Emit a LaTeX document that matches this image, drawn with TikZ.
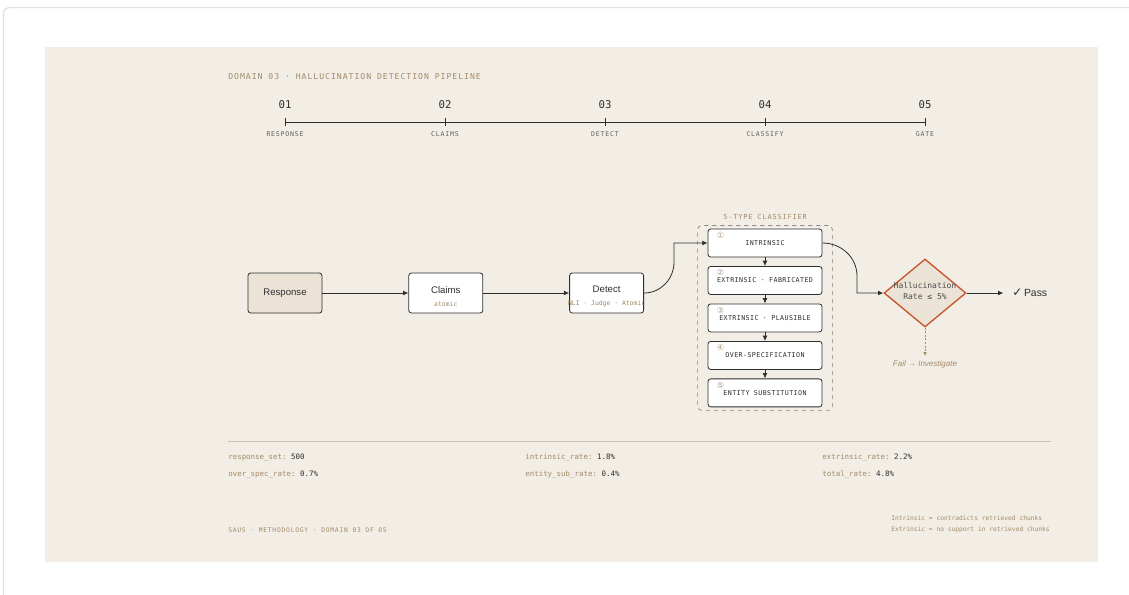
\documentclass[tikz,border=0pt]{standalone}
\usepackage{fontspec}
\setmainfont{Liberation Sans}
\setmonofont{DejaVu Sans Mono}
\newfontfamily\spaced[LetterSpace=12]{DejaVu Sans Mono}
\newfontfamily\boxmono[LetterSpace=6]{DejaVu Sans Mono}
\newfontfamily\symf{DejaVu Sans}
\usepackage{tikz}
\usetikzlibrary{arrows.meta, positioning, shapes.geometric, fit, calc}
\definecolor{panel}{HTML}{F2EEE6}
\definecolor{ink}{HTML}{2E2E2E}
\definecolor{tan}{HTML}{A38A68}
\definecolor{sand}{HTML}{EAE3D6}
\definecolor{rust}{HTML}{C9552B}
\definecolor{rulec}{HTML}{C8C1B6}
\definecolor{framec}{HTML}{E2E2E2}
\newcommand{\subtx}[1]{{\ttfamily\fontsize{4.8}{6}\selectfont\color{tan}#1}}
\tikzset{
  blk/.style ={rectangle, rounded corners=2pt, draw=ink, fill=white, line width=0.6pt, minimum width=55.5pt, minimum height=30pt, align=center, inner sep=2pt, font=\fontsize{7.2}{9}\selectfont, text=ink},
  cls/.style ={rectangle, rounded corners=2pt, draw=ink, fill=white, line width=0.6pt, minimum width=85.5pt, minimum height=21pt, inner sep=1pt, font=\boxmono\fontsize{5}{6}\selectfont, text=ink},
  num/.style ={anchor=north west, inner sep=0pt, xshift=6.5pt, yshift=-2.5pt, font=\symf\fontsize{6.3}{7}\selectfont, text=tan!80},
  grp/.style ={rectangle, rounded corners=3pt, draw=ink!60, dashed, line width=0.5pt, inner xsep=7.5pt, inner ysep=2.3pt},
  grplbl/.style ={font=\spaced\fontsize{5.2}{6}\selectfont, text=tan, inner sep=1pt, label distance=3pt},
  gate/.style={diamond, draw=rust, fill=sand, line width=1pt, minimum width=61.5pt, minimum height=51pt, inner sep=0pt},
  gtxt/.style={align=center, inner sep=0pt, font=\ttfamily\fontsize{6}{8.25}\selectfont, text=ink!85},
  passn/.style={inner sep=0pt, font=\fontsize{7.8}{9}\selectfont, text=ink},
  failtx/.style={inner sep=3pt, font=\itshape\fontsize{6}{7}\selectfont, text=tan},
  ttl/.style ={inner sep=0pt, font=\spaced\fontsize{6.1}{7}\selectfont, text=tan},
  stepno/.style={inner sep=0pt, font=\ttfamily\fontsize{8}{9}\selectfont, text=ink},
  steplbl/.style={inner sep=0pt, font=\spaced\fontsize{4.9}{6}\selectfont, text=ink!75},
  stat/.style={anchor=west, inner sep=0pt, font=\ttfamily\fontsize{5.6}{7}\selectfont, text=ink},
  note/.style={anchor=west, align=left, inner sep=0pt, font=\ttfamily\fontsize{4.7}{8.25}\selectfont, text=tan},
  tl/.style  ={draw=ink, line width=0.7pt},
  fl/.style  ={draw=ink, line width=0.6pt, -{Latex[length=4pt, width=3.6pt]}},
  flt/.style ={draw=tan, line width=0.6pt, dash pattern=on 1.5pt off 1.2pt, -{Latex[length=3pt, width=2.8pt]}},
}
\begin{document}
\begin{tikzpicture}[x=0.75pt, y=-0.75pt, node distance=6.5pt, >=Latex]
  \useasboundingbox (0,0) rectangle (1129,594);
  \fill[white] (0,0) rectangle (1129,594);
  \draw[framec, line width=1pt, rounded corners=4pt] (3.5,7.5) rectangle (1140,610);
  \fill[panel] (45,47) rectangle (1098,562);

  \node[ttl, anchor=west] (title) at (228,77) {DOMAIN 03 · HALLUCINATION DETECTION PIPELINE};
  \foreach \stepno/\steptxt [count=\i] in {01/RESPONSE, 02/CLAIMS, 03/DETECT, 04/CLASSIFY, 05/GATE}{
    \coordinate (t\i) at ({125+160*\i},122);
    \node[stepno] (n\i) at ({125+160*\i},105) {\stepno};
    \node[steplbl] (l\i) at ({125+160*\i},134) {\steptxt};
    \draw[tl] ([yshift=3pt]t\i) -- ([yshift=-3pt]t\i);
  }
  \draw[tl] (t1) -- (t5);

  \node[blk, fill=sand] (resp) at (285,293) {Response};
  \node[blk, right=64.5pt of resp] (clm) {\rule{0pt}{10.5pt}Claims\\[0.5pt]\subtx{atomic}};
  \node[blk, right=64.5pt of clm] (det) {\rule{0pt}{10.5pt}Detect\\[0.5pt]\subtx{\makebox[0pt]{NLI · Judge · Atomic}}};

  \node[cls, label={[num]north west:①}] (c1) at (765,243) {INTRINSIC};
  \foreach \k/\cn/\txt in {2/②/EXTRINSIC · FABRICATED, 3/③/EXTRINSIC · PLAUSIBLE, 4/④/OVER-SPECIFICATION, 5/⑤/ENTITY SUBSTITUTION}{
    \pgfmathtruncatemacro\prev{\k-1}
    \node[cls, below=of c\prev, label={[num]north west:\cn}] (c\k) {\txt};
    \draw[fl] (c\prev) -- (c\k);
  }
  \node[grp, fit=(c1)(c5), label={[grplbl]above:5-TYPE CLASSIFIER}] (clsf) {};

  \node[gate] (gate) at (925,293) {};
  \node[gtxt] (gtx) at ([yshift=1.5pt]gate.center) {Hallucination\\Rate ≤ 5\%};
  \node[passn, right=34pt of gate] (pass) {{\symf\fontsize{9}{9}\selectfont ✓}\,Pass};
  \node[failtx] (fail) at (925,364) {Fail → Investigate};

  \coordinate (bend1) at (674,262);
  \coordinate (bend2) at (857,276);
  \draw[fl] (resp) -- (clm);
  \draw[fl] (clm) -- (det);
  \draw[fl] (det.east) to[out=0, in=-90] (bend1) |- (c1.west);
  \draw[fl] (c1.east) to[out=0, in=90] (bend2) |- (gate.west);
  \draw[fl] (gate.east) -- ([xshift=-6.5pt]pass.west);
  \draw[flt] (gate.south) -- (fail.north);

  \draw[rulec, line width=0.7pt] (228,441) -- (1051,441);
  \foreach \x/\y/\key/\val in {228/458/response\_set/500, 525/458/intrinsic\_rate/1.8\%, 822/458/extrinsic\_rate/2.2\%,
                               228/475/over\_spec\_rate/0.7\%, 525/475/entity\_sub\_rate/0.4\%, 822/475/total\_rate/4.8\%}{
    \node[stat] at (\x,\y) {{\color{tan}\key:} \val};
  }
  \node[ttl, anchor=west, font=\spaced\fontsize{4.75}{6}\selectfont] (foot) at (228,530) {SAUS · METHODOLOGY · DOMAIN 03 OF 05};
  \node[note] (notes) at (891,524.5) {Intrinsic = contradicts retrieved chunks\\Extrinsic = no support in retrieved chunks};
\end{tikzpicture}
\end{document}
